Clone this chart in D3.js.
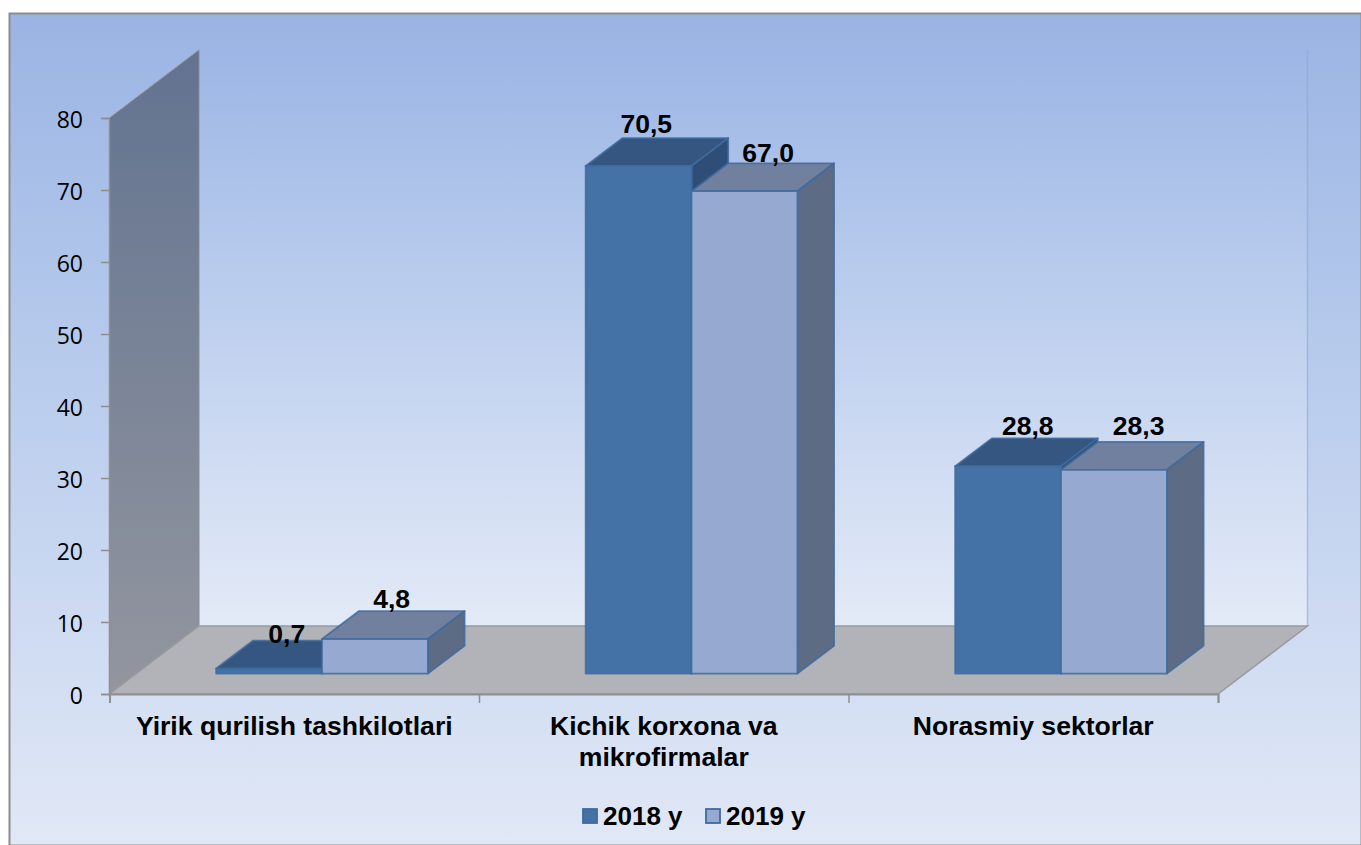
<!DOCTYPE html>
<html><head><meta charset="utf-8">
<script src="https://cdn.jsdelivr.net/npm/d3@7"></script>
<style>html,body{margin:0;padding:0;background:#fff}svg{display:block}</style></head>
<body><svg id="c" width="1361" height="845"></svg>
<script>
const categories=[["Yirik qurilish tashkilotlari"],["Kichik korxona va","mikrofirmalar"],["Norasmiy sektorlar"]];
const seriesNames=["2018 y","2019 y"];
const values2018=[0.7,70.5,28.8];
const values2019=[4.8,67.0,28.3];
const labels2018=["0,7","70,5","28,8"];
const labels2019=["4,8","67,0","28,3"];
const yTicks=[0,10,20,30,40,50,60,70,80];
const frontColors=["#4471a6","#96a9d1"],topColors=["#345680","#72809f"],sideColors=["#2f4e77","#5e6b84"];
const series=[values2018,values2019],labels=[labels2018,labels2019];
// hand placement of the data labels, in pixels from the back top edge of each bar
const labelNudgeX=[[-19,-29,-17],[-20,-13,-12]];
const labelNudgeY=[[2,-5,-3],[-3,-1,-7]];

const svg=d3.select("#c");
const defs=svg.append("defs");
function grad(id,stops,x2=0,y2=1){const g=defs.append("linearGradient").attr("id",id).attr("x1",0).attr("y1",0).attr("x2",x2).attr("y2",y2);
 stops.forEach(s=>g.append("stop").attr("offset",s[0]).attr("stop-color",s[1]));}
grad("bg",[[0,"#9ab4e3"],[.5,"#bdcfee"],[1,"#e1e8f6"]],0,1);
grad("wall",[[0,"#9cb6e5"],[.5,"#c0d1ef"],[1,"#e3eaf7"]]);
grad("side",[[0,"#627390"],[1,"#93969f"]]);

svg.append("rect").attr("x",9.5).attr("y",13.5).attr("width",1352).attr("height",832).attr("fill","url(#bg)").attr("stroke","#8c8c8c").attr("stroke-width",2);

const x=d3.scaleLinear().domain([0,3]).range([109.5,1218]);
const y=d3.scaleLinear().domain([0,80]).range([694,118]);
const depthX=d3.scaleLinear().domain([0,1]).range([0,89.5]);
const depthY=d3.scaleLinear().domain([0,1]).range([0,-68]);
const P=(cx,v,d)=>[x(cx)+depthX(d),y(v)+depthY(d)];
const poly=pts=>"M"+pts.map(p=>p.join(",")).join("L")+"Z";

svg.append("path").attr("d",poly([P(0,0,1),P(3,0,1),P(3,80,1),P(0,80,1)])).attr("fill","url(#wall)");
svg.append("path").attr("d","M"+P(3,0,1).join(",")+"L"+P(3,80,1).join(",")).attr("stroke","#8fa6cf").attr("stroke-opacity",.6).attr("stroke-width",1.5);
svg.append("path").attr("d",poly([P(0,0,0),P(0,0,1),P(0,80,1),P(0,80,0)])).attr("fill","url(#side)").attr("stroke","#8a8d95").attr("stroke-width",1);
svg.append("path").attr("d",poly([P(0,0,0),P(0,0,1),P(3,0,1),P(3,0,0)])).attr("fill","#b1b3b8").attr("stroke","#999b9f").attr("stroke-width",1.5);

const inner=d3.scaleBand().domain([0,1]).range([0.216,0.789]);
const depthNear=0.30,depthFar=0.71;
categories.forEach((c,i)=>{
  series.forEach((vals,s)=>{
    const a=i+inner(s),b=a+inner.bandwidth(),v=vals[i];
    const g=svg.append("g").attr("stroke","#3f6b9f").attr("stroke-width",1.8).attr("stroke-opacity",.85).attr("stroke-linejoin","round");
    g.append("path").attr("d",poly([P(a,v,depthNear),P(b,v,depthNear),P(b,v,depthFar),P(a,v,depthFar)])).attr("fill",topColors[s]);
    g.append("path").attr("d",poly([P(b,0,depthNear),P(b,0,depthFar),P(b,v,depthFar),P(b,v,depthNear)])).attr("fill",sideColors[s]);
    g.append("path").attr("d",poly([P(a,0,depthNear),P(b,0,depthNear),P(b,v,depthNear),P(a,v,depthNear)])).attr("fill",frontColors[s]);
  });
});
categories.forEach((c,i)=>{
  series.forEach((vals,s)=>{
    const a=i+inner(s),mid=a+inner.bandwidth()/2,p=P(mid,vals[i],depthFar);
    svg.append("text").attr("x",p[0]+labelNudgeX[s][i]).attr("y",p[1]+labelNudgeY[s][i]).attr("text-anchor","middle")
      .attr("font-family","Liberation Sans").attr("font-weight","bold").attr("font-size",26.5).attr("fill","#000").text(labels[s][i]);
  });
});

const ya=svg.append("g").attr("transform","translate(109,0)").call(d3.axisLeft(y).tickValues(yTicks).tickSize(8).tickPadding(18));
ya.selectAll("line").attr("stroke","#8f8f8f").attr("stroke-width",1.5);
ya.select(".domain").attr("stroke","#8f8f8f").attr("stroke-width",1.5);
ya.selectAll("text").attr("font-family","Open Sans").attr("font-size",23).attr("fill","#000").attr("dy","0.43em");
const xa=svg.append("g").attr("transform","translate(0,694)").call(d3.axisBottom(x).tickValues([0,1,2,3]).tickSize(9).tickFormat(""));
xa.selectAll("line").attr("stroke","#8f8f8f").attr("stroke-width",1.5);
xa.select(".domain").attr("stroke","#8f8f8f").attr("stroke-width",2);

categories.forEach((c,i)=>{
  c.forEach((t,k)=>svg.append("text").attr("x",x(i+.5)).attr("y",735+k*31).attr("text-anchor","middle")
    .attr("font-family","Liberation Sans").attr("font-weight","bold").attr("font-size",26.6).attr("fill","#000").text(t));
});

const legendX=[583,706];
seriesNames.forEach((n,s)=>{
  svg.append("rect").attr("x",legendX[s]).attr("y",809).attr("width",14).attr("height",14).attr("fill",frontColors[s]).attr("stroke","#3f6b9f").attr("stroke-width",1.8);
  svg.append("text").attr("x",legendX[s]+20).attr("y",825).attr("font-family","Liberation Sans").attr("font-weight","bold").attr("font-size",26).attr("fill","#000").text(n);
});
</script></body></html>
